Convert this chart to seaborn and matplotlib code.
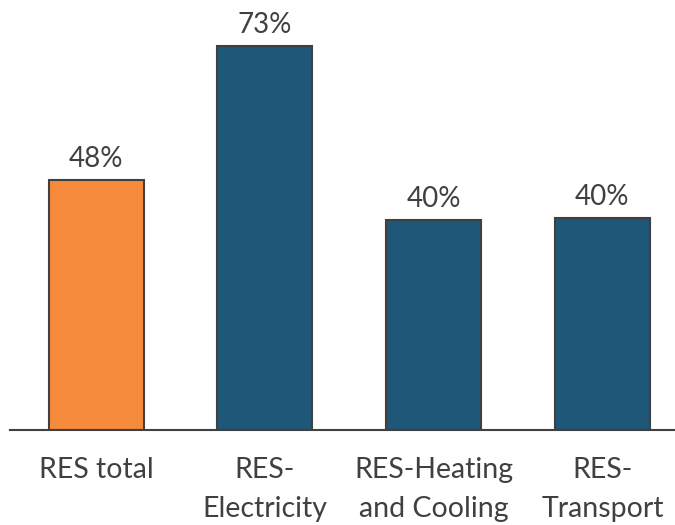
import matplotlib
matplotlib.use("Agg")
import matplotlib.pyplot as plt
import seaborn as sns
import pandas as pd

categories = ["RES total", "RES-\nElectricity", "RES-Heating\nand Cooling", "RES-\nTransport"]
shares = [47.6, 73.2, 40.0, 40.4]
bar_colors = ["#F68B3D", "#1F5778", "#1F5778", "#1F5778"]

sns.set_theme(style="white")
plt.rcParams["font.family"] = ["Lato", "DejaVu Sans"]

df = pd.DataFrame({"category": categories, "share": shares})

fig = plt.figure(figsize=(6.75, 5.25), dpi=100)
ax = fig.add_axes([10 / 675, 95.5 / 525, 665 / 675, 429.5 / 525])

sns.barplot(data=df, x="category", y="share", hue="category",
            palette=bar_colors, legend=False, width=0.563,
            edgecolor="#404040", linewidth=1.5, saturation=1, ax=ax)

for container in ax.containers:
    ax.bar_label(container, labels=[f"{v:.0f}%" for v in container.datavalues],
                 padding=6, fontsize=20, color="#404040")

ax.set_xlim(-0.51, 3.43)
ax.set_ylim(0, 82)
ax.set_xlabel("")
ax.set_ylabel("")
ax.set_yticks([])
for side in ["top", "left", "right"]:
    ax.spines[side].set_visible(False)
ax.spines["bottom"].set_color("#404040")
ax.spines["bottom"].set_linewidth(1.5)
ax.tick_params(axis="x", length=0, pad=20, labelsize=20.5, labelcolor="#404040")
for lbl in ax.get_xticklabels():
    lbl.set_linespacing(1.6)

fig.savefig("out.png", dpi=100)
